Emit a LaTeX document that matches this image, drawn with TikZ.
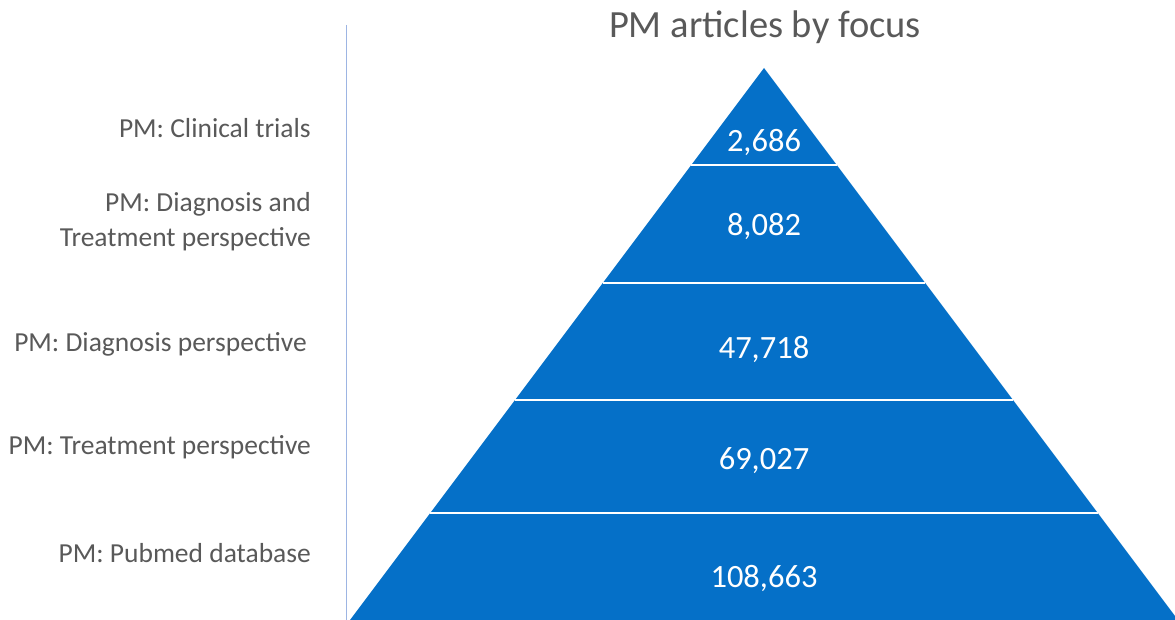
\documentclass[tikz,border=0pt]{standalone}
\usepackage{fontspec}
\setmainfont{Carlito}
\usetikzlibrary{calc}
\definecolor{pyrblue}{HTML}{0570C8}
\definecolor{labelgray}{HTML}{595959}
\definecolor{axisblue}{HTML}{9DB5E3}
\tikzset{
  label text/.style={anchor=east, align=right, text=labelgray, font=\fontsize{27.5}{35}\selectfont, inner sep=0pt},
  count text/.style={text=white, font=\fontsize{32.5}{38}\selectfont, inner sep=0pt},
  band line/.style={draw=white, line width=2.5pt},
}
\begin{document}
\begin{tikzpicture}[x=1pt, y=-1pt]
\useasboundingbox (0,0) rectangle (1175,620);
% left rule
\coordinate (rtop) at (346,25);
\coordinate (rbot) at (346,620);
\draw[axisblue, line width=1pt] (rtop) -- (rbot);
% pyramid
\coordinate (A) at (764,68);
\coordinate (BL) at (350,620);
\coordinate (BR) at (1178,620);
\fill[pyrblue] (A) -- (BL) -- (BR) -- cycle;
\foreach \t in {0.1757,0.3895,0.6014,0.8062}{
  \draw[band line] ($(A)!\t!(BL)$) -- ($(A)!\t!(BR)$);
}
% title
\node[text=labelgray, font=\fontsize{38.5}{46}\selectfont, inner sep=0pt] (title) at (765,27) {PM articles by focus};
% counts
\node[count text] (n1) at (764,142) {2,686};
\node[count text] (n2) at (764,226) {8,082};
\node[count text] (n3) at (764,349) {47,718};
\node[count text] (n4) at (764,461) {69,027};
\node[count text] (n5) at (764,578) {108,663};
% labels
\node[label text] (l1) at (311,128) {PM: Clinical trials};
\node[label text] (l2) at (311,222) {PM: Diagnosis and\\Treatment perspective};
\node[label text] (l3) at (307,344) {PM: Diagnosis perspective};
\node[label text] (l4) at (311,447) {PM: Treatment perspective};
\node[label text] (l5) at (311,553) {PM: Pubmed database};
\end{tikzpicture}
\end{document}
